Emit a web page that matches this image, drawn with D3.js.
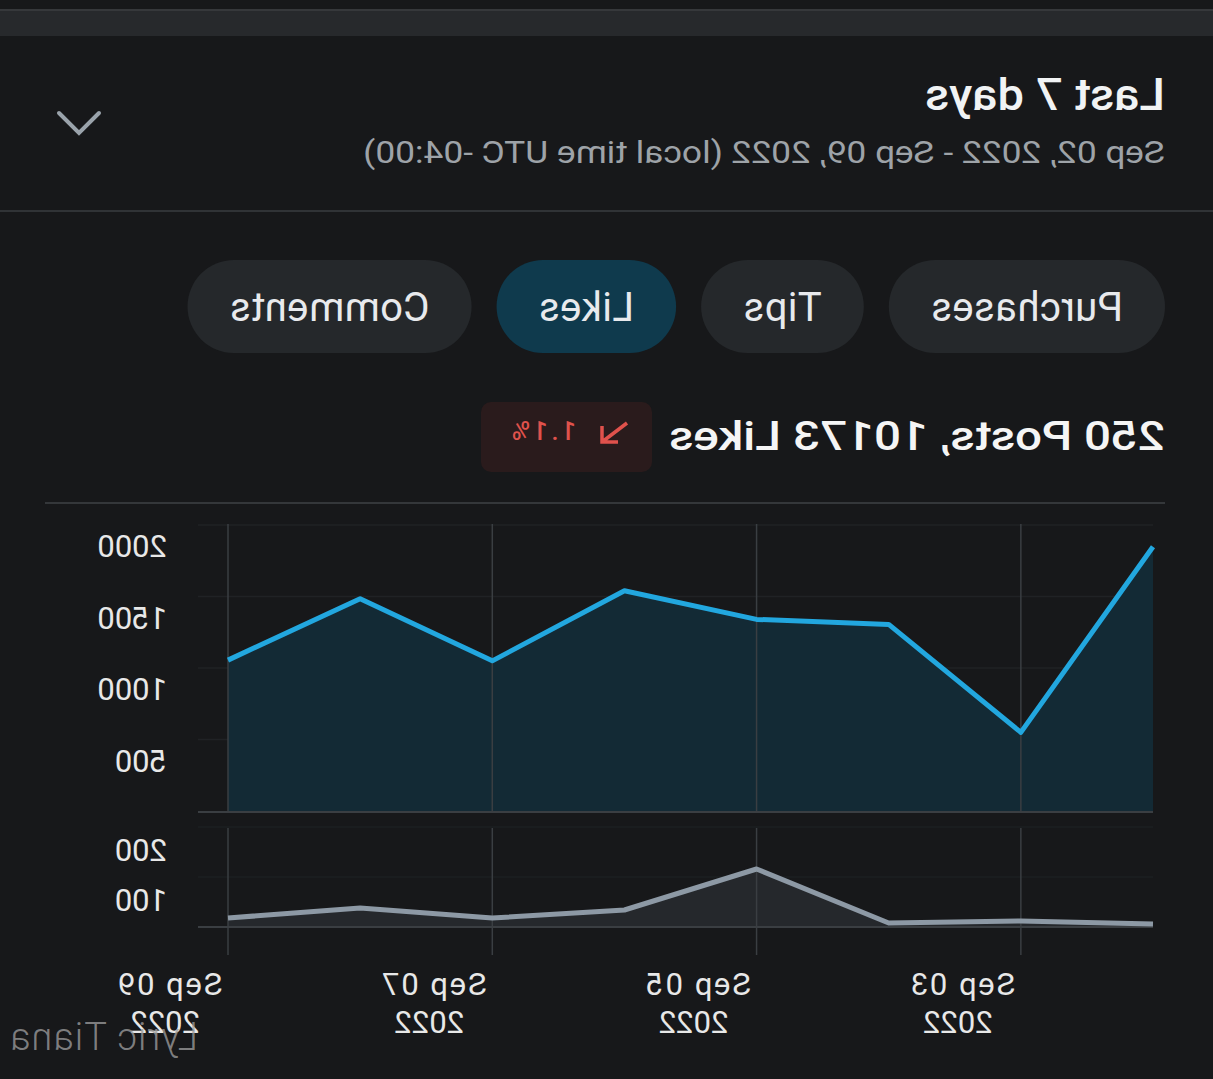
<!DOCTYPE html>
<html>
<head>
<meta charset="utf-8">
<script src="https://cdn.jsdelivr.net/npm/d3@7"></script>
<style>
html, body { margin: 0; padding: 0; background: #17181a; }
svg { display: block; font-family: Roboto, "Noto Sans", sans-serif; }
</style>
</head>
<body>
<script>
// values per day, Sep 02 .. Sep 09 2022
var days = ["2022-09-02", "2022-09-03", "2022-09-04", "2022-09-05", "2022-09-06", "2022-09-07", "2022-09-08", "2022-09-09"];
var likes = [1848, 550, 1305, 1340, 1540, 1050, 1485, 1055];
var posts = [6, 12, 8, 116, 34, 18, 38, 18];

var tabs = ["Purchases", "Tips", "Likes", "Comments"];
var activeTab = "Likes";
var dayTicks = ["2022-09-03", "2022-09-05", "2022-09-07", "2022-09-09"];
var likeTicks = [500, 1000, 1500, 2000];
var postTicks = [100, 200];
var change = "1.1%";

var W = 1213, H = 1079;
var parse = d3.timeParse("%Y-%m-%d");
var fmtDay = d3.timeFormat("%b %d");
var fmtYear = d3.timeFormat("%Y");

var svg = d3.select("body").append("svg")
  .attr("width", W)
  .attr("height", H);

svg.append("rect").attr("width", W).attr("height", H).attr("fill", "#17181a");

// the screenshot is mirrored left-right
var root = svg.append("g")
  .attr("transform", "translate(" + W + ",0) scale(-1,1)");

// top bar
root.append("rect").attr("x", 0).attr("y", 9).attr("width", W).attr("height", 27).attr("fill", "#27292c");
root.append("rect").attr("x", 0).attr("y", 9).attr("width", W).attr("height", 2).attr("fill", "#36383b");

// header
root.append("text")
  .attr("x", 48).attr("y", 110)
  .attr("font-size", 45).attr("font-weight", 500)
  .attr("textLength", 240).attr("lengthAdjust", "spacingAndGlyphs")
  .attr("fill", "#f1f3f4")
  .text("Last 7 days");

root.append("text")
  .attr("x", 48).attr("y", 163)
  .attr("font-size", 32)
  .attr("textLength", 802).attr("lengthAdjust", "spacingAndGlyphs")
  .attr("fill", "#9ea3a8")
  .text("Sep 02, 2022 - Sep 09, 2022 (local time UTC -04:00)");

root.append("path")
  .attr("d", "M1114,113 L1134,133 L1154,113")
  .attr("fill", "none")
  .attr("stroke", "#9aa3ab")
  .attr("stroke-width", 4)
  .attr("stroke-linecap", "round");

root.append("rect").attr("x", 0).attr("y", 210).attr("width", W).attr("height", 2).attr("fill", "#303336");

// tabs
var tx = 48;
tabs.forEach(function(t) {
  var g = root.append("g");
  var rect = g.append("rect");
  var label = g.append("text")
    .attr("y", 321)
    .attr("font-size", 40)
    .attr("letter-spacing", 0.5)
    .attr("fill", "#e8eaed")
    .attr("text-anchor", "middle")
    .text(t);
  var w = label.node().getComputedTextLength() + 84;
  rect.attr("x", tx).attr("y", 260)
    .attr("width", w).attr("height", 93)
    .attr("rx", 46.5)
    .attr("fill", t === activeTab ? "#0f3a4d" : "#25282b");
  label.attr("x", tx + w / 2);
  tx += w + 25;
});

// summary line
root.append("text")
  .attr("x", 48).attr("y", 450)
  .attr("font-size", 40).attr("font-weight", 500)
  .attr("textLength", 496).attr("lengthAdjust", "spacingAndGlyphs")
  .attr("fill", "#f5f5f5")
  .text(d3.sum(posts) + " Posts, " + d3.sum(likes) + " Likes");

root.append("rect")
  .attr("x", 561).attr("y", 402)
  .attr("width", 171).attr("height", 70)
  .attr("rx", 10)
  .attr("fill", "#2a1b1c");

root.append("path")
  .attr("d", "M586,423 L611,442 M611,426 L611,442 L595,442")
  .attr("fill", "none")
  .attr("stroke", "#e0524c")
  .attr("stroke-width", 3.5);

root.append("text")
  .attr("x", 637).attr("y", 440)
  .attr("font-size", 25)
  .attr("font-weight", 500)
  .attr("letter-spacing", 3.5)
  .attr("fill", "#e0524c")
  .text(change);

root.append("rect").attr("x", 48).attr("y", 502).attr("width", 1120).attr("height", 2).attr("fill", "#34373a");

// chart
var data = days.map(function(d, i) {
  return {date: parse(d), likes: likes[i], posts: posts[i]};
});

var x = d3.scaleTime()
  .domain(d3.extent(data, function(d) { return d.date; }))
  .range([60, 985]);

var yL = d3.scaleLinear().domain([0, 2000]).range([811, 525]);
var yP = d3.scaleLinear().domain([0, 200]).range([927, 827]);

var gridColor = "#3a3e42";
var tickDates = dayTicks.map(parse);

// horizontal grid
root.append("g").selectAll("line")
  .data(likeTicks)
  .enter().append("line")
  .attr("x1", 60).attr("x2", 1015)
  .attr("y1", function(d) { return yL(d); })
  .attr("y2", function(d) { return yL(d); })
  .attr("stroke", "#202225")
  .attr("stroke-width", 1.5);

root.append("g").selectAll("line")
  .data(postTicks)
  .enter().append("line")
  .attr("x1", 60).attr("x2", 1015)
  .attr("y1", function(d) { return yP(d); })
  .attr("y2", function(d) { return yP(d); })
  .attr("stroke", "#1d1f22")
  .attr("stroke-width", 1.5);

// likes area
root.append("path")
  .datum(data)
  .attr("fill", "#132a35")
  .attr("d", d3.area()
    .x(function(d) { return x(d.date); })
    .y0(yL(0))
    .y1(function(d) { return yL(d.likes); }));

// posts area
root.append("path")
  .datum(data)
  .attr("fill", "#25282c")
  .attr("d", d3.area()
    .x(function(d) { return x(d.date); })
    .y0(yP(0))
    .y1(function(d) { return yP(d.posts); }));

// vertical grid
root.append("g").selectAll("line")
  .data(tickDates)
  .enter().append("line")
  .attr("x1", function(d) { return x(d); })
  .attr("x2", function(d) { return x(d); })
  .attr("y1", 524).attr("y2", 812)
  .attr("stroke", gridColor)
  .attr("stroke-width", 1.5);

root.append("g").selectAll("line")
  .data(tickDates)
  .enter().append("line")
  .attr("x1", function(d) { return x(d); })
  .attr("x2", function(d) { return x(d); })
  .attr("y1", 828).attr("y2", 955)
  .attr("stroke", gridColor)
  .attr("stroke-width", 1.5);

// baselines
root.append("line")
  .attr("x1", 60).attr("x2", 1015)
  .attr("y1", yL(0) + 1).attr("y2", yL(0) + 1)
  .attr("stroke", gridColor).attr("stroke-width", 2);
root.append("line")
  .attr("x1", 60).attr("x2", 1015)
  .attr("y1", yP(0)).attr("y2", yP(0))
  .attr("stroke", gridColor).attr("stroke-width", 2);

root.append("path")
  .datum(data)
  .attr("fill", "none")
  .attr("stroke", "#22a7df")
  .attr("stroke-width", 5)
  .attr("stroke-linejoin", "round")
  .attr("d", d3.line()
    .x(function(d) { return x(d.date); })
    .y(function(d) { return yL(d.likes); }));

root.append("path")
  .datum(data)
  .attr("fill", "none")
  .attr("stroke", "#8d99a5")
  .attr("stroke-width", 5)
  .attr("stroke-linejoin", "round")
  .attr("d", d3.line()
    .x(function(d) { return x(d.date); })
    .y(function(d) { return yP(d.posts); }));

// y labels (right side before mirroring)
root.append("g").selectAll("text")
  .data(likeTicks)
  .enter().append("text")
  .attr("x", 1046)
  .attr("y", function(d) { return yL(d) + 32; })
  .attr("font-size", 31)
  .attr("fill", "#e8e8e8")
  .text(function(d) { return d; });

root.append("g").selectAll("text")
  .data(postTicks)
  .enter().append("text")
  .attr("x", 1046)
  .attr("y", function(d) { return yP(d) + 34; })
  .attr("font-size", 31)
  .attr("fill", "#e8e8e8")
  .text(function(d) { return d; });

// x labels
var xl = root.append("g").selectAll("g")
  .data(tickDates)
  .enter().append("g");

xl.append("text")
  .attr("x", function(d) { return x(d) + 59; })
  .attr("y", 995)
  .attr("font-size", 31)
  .attr("letter-spacing", 2)
  .attr("text-anchor", "middle")
  .attr("fill", "#e8e8e8")
  .text(function(d) { return fmtDay(d); });

xl.append("text")
  .attr("x", function(d) { return x(d) + 63; })
  .attr("y", 1033)
  .attr("font-size", 31)
  .attr("text-anchor", "middle")
  .attr("fill", "#e8e8e8")
  .text(function(d) { return fmtYear(d); });

// watermark
root.append("text")
  .attr("x", 1015).attr("y", 1050)
  .attr("font-size", 38).attr("font-weight", 300)
  .attr("letter-spacing", 1)
  .attr("fill", "#9a9a9a")
  .attr("fill-opacity", 0.8)
  .text("Lyric Tiana");
</script>
</body>
</html>
